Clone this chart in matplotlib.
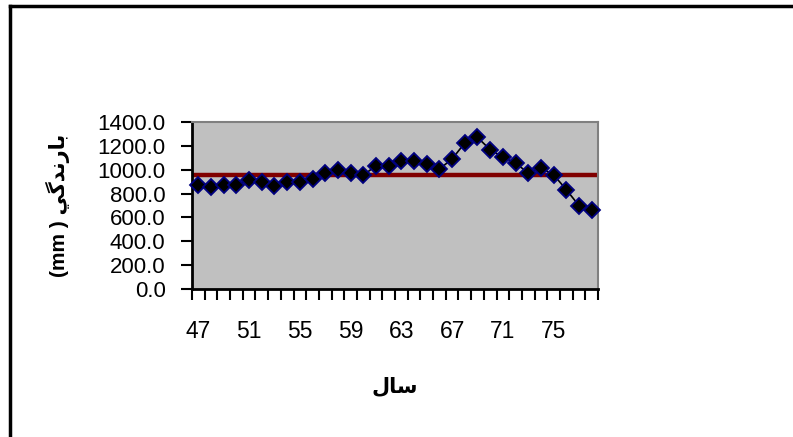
import matplotlib
matplotlib.use("Agg")
import matplotlib.pyplot as plt
from matplotlib.lines import Line2D

plt.rcParams['font.family'] = ['Liberation Sans', 'DejaVu Sans']

years = list(range(47, 79))
rain = [875, 855, 875, 875, 911, 894, 866, 894, 894, 922,
        972, 1000, 972, 953, 1034, 1028, 1076, 1076, 1050, 1006,
        1090, 1224, 1271, 1168, 1106, 1056, 972, 1014, 958, 833,
        699, 665]
mean_rain = 958
yticks = [0, 200, 400, 600, 800, 1000, 1200, 1400]
# pre-shaped glyphs in visual order (matplotlib does no arabic shaping)
ylabel = "(mm ) \ufef2\ufb94\ufeaa\ufee7\ufead\ufe8e\ufe91"
xlabel = "\ufedd\ufe8e\ufeb3"

fig = plt.figure(figsize=(7.93, 4.37), dpi=100)
ax = fig.add_axes([192 / 793, 1 - 289 / 437, (598 - 192) / 793, (289 - 122) / 437])
ax.set_facecolor('#c0c0c0')

x = list(range(len(years)))
ax.axhline(mean_rain, color='#800000', lw=3.2, zorder=2)
ax.plot(x, rain, color='black', lw=1.2, marker='D', markersize=8.5,
        markerfacecolor='black', markeredgecolor='#000080', markeredgewidth=1.3,
        zorder=3, clip_on=False)

ax.set_xlim(-0.5, len(years) - 0.5)
ax.set_ylim(0, 1400)
ax.set_yticks(yticks)
ax.set_yticklabels([f"{v:.1f}" for v in yticks])
ax.set_xticks([i - 0.5 for i in range(len(years) + 1)])
ax.set_xticklabels([])
ax.set_xticks(x[::4], minor=True)
ax.set_xticklabels([str(y) for y in years[::4]], minor=True)
ax.tick_params(axis='x', which='major', direction='out', length=8, width=1.5)
ax.tick_params(axis='x', which='minor', length=0, pad=22, labelsize=16.5)
ax.tick_params(axis='y', direction='out', length=8, width=1.5, pad=11, labelsize=16)

for side in ['left', 'bottom']:
    ax.spines[side].set_linewidth(2)
    ax.spines[side].set_color('black')
for side in ['top', 'right']:
    ax.spines[side].set_linewidth(1.5)
    ax.spines[side].set_color('#808080')

ax.set_xlabel(xlabel, fontsize=15, fontweight='bold', labelpad=24)
ax.set_ylabel(ylabel, fontsize=15, fontweight='bold', labelpad=20)

# outer chart frame (only top and left edges show)
fig.add_artist(Line2D([10 / 793, 10 / 793], [0, 1 - 6 / 437], color='black', lw=2.5))
fig.add_artist(Line2D([10 / 793, 1], [1 - 6 / 437, 1 - 6 / 437], color='black', lw=2.5))

fig.savefig('out.png', dpi=100)
